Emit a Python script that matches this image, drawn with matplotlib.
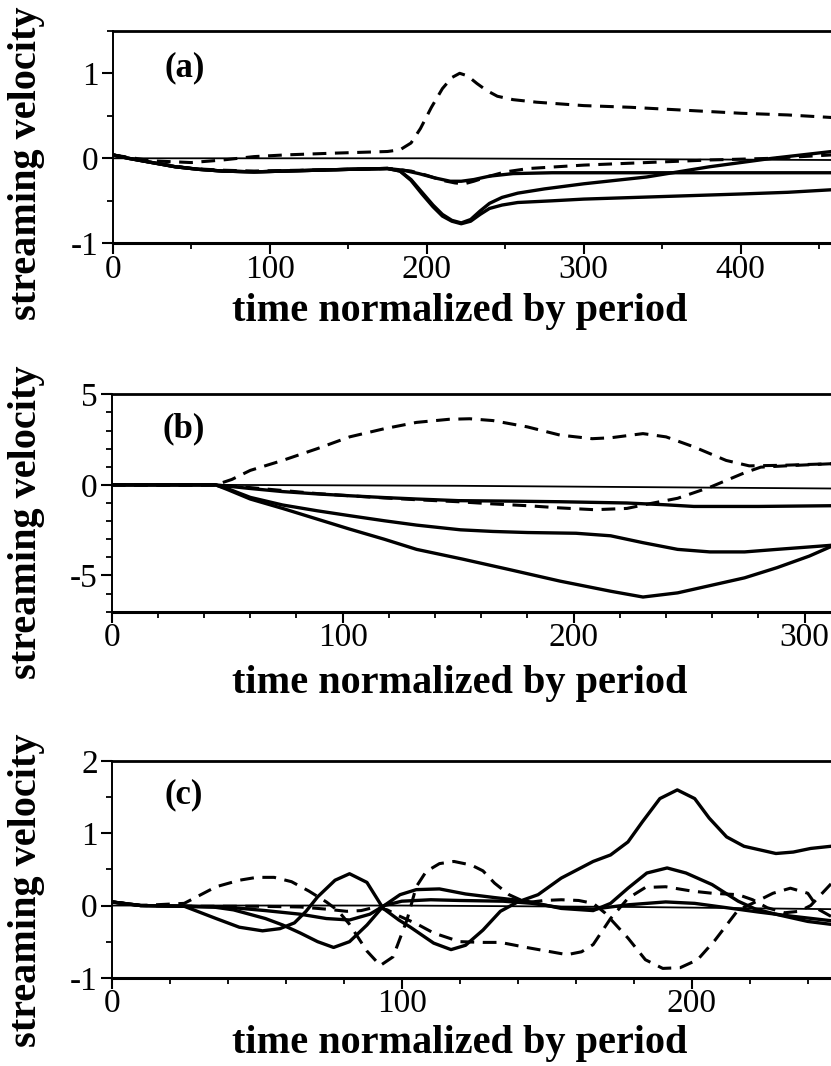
import matplotlib
matplotlib.use("Agg")
import matplotlib.pyplot as plt
from matplotlib.ticker import MultipleLocator

plt.rcParams['font.family'] = ['Liberation Serif', 'DejaVu Serif']
plt.rcParams['axes.unicode_minus'] = False

W, H = 831, 1066

# -------------------------
# Panel (a) data
# -------------------------
a_zero_t = [0, 200, 458]
a_zero_v = [0.0, 0.0, -0.02]

a_dash_up_t = [0, 25, 50, 70, 90, 110, 140, 175, 183, 190, 196, 203, 210, 216, 221, 226, 232,
               238, 245, 255, 270, 300, 330, 360, 400, 430, 458]
a_dash_up_v = [0.04, -0.03, -0.05, -0.02, 0.02, 0.04, 0.06, 0.08, 0.1, 0.18, 0.35, 0.6, 0.82, 0.95,
               1.0, 0.97, 0.88, 0.8, 0.73, 0.69, 0.66, 0.62, 0.6, 0.57, 0.53, 0.51, 0.48]

a_dash_lo_t = [0, 25, 50, 70, 90, 120, 150, 175, 190, 200, 210, 218, 224, 230, 240, 250, 265,
               300, 340, 380, 420, 458]
a_dash_lo_v = [0.04, -0.05, -0.12, -0.14, -0.15, -0.14, -0.13, -0.12, -0.15, -0.2, -0.26, -0.29,
               -0.3, -0.27, -0.21, -0.16, -0.12, -0.08, -0.05, -0.02, 0.0, 0.04]

a_start_t = [0, 10, 25, 40, 55, 70, 90, 110, 130, 150, 175]
a_start_v = [0.04, 0.0, -0.05, -0.1, -0.13, -0.15, -0.16, -0.15, -0.14, -0.13, -0.12]

a_sol1_t = a_start_t + [185, 195, 205, 215, 222, 230, 240, 255, 280, 320, 400, 458]
a_sol1_v = a_start_v + [-0.14, -0.18, -0.23, -0.27, -0.27, -0.25, -0.21, -0.18, -0.17, -0.17,
                        -0.17, -0.17]

a_sol2_t = a_start_t + [183, 190, 197, 204, 210, 216, 222, 228, 234, 240, 248, 258, 275, 300,
                        340, 380, 420, 458]
a_sol2_v = a_start_v + [-0.15, -0.25, -0.4, -0.55, -0.66, -0.73, -0.76, -0.72, -0.62, -0.53,
                        -0.46, -0.41, -0.36, -0.3, -0.22, -0.1, 0.0, 0.08]

a_sol3_t = a_start_t + [183, 190, 197, 204, 210, 216, 222, 228, 234, 240, 248, 258, 280, 300,
                        350, 400, 430, 458]
a_sol3_v = a_start_v + [-0.15, -0.26, -0.42, -0.57, -0.68, -0.74, -0.77, -0.74, -0.66, -0.59,
                        -0.55, -0.52, -0.5, -0.48, -0.45, -0.42, -0.4, -0.37]

# -------------------------
# Panel (b) data
# -------------------------
b_zero_t = [0, 45, 150, 312]
b_zero_v = [0.0, 0.0, -0.05, -0.2]

b_dash_up_t = [0, 20, 45, 52, 60, 74, 89, 103, 118, 132, 146, 155, 165, 180, 194, 208, 216,
               230, 240, 252, 266, 276, 290, 312]
b_dash_up_v = [0.0, -0.02, 0.0, 0.3, 0.8, 1.35, 2.0, 2.65, 3.1, 3.45, 3.62, 3.65, 3.55, 3.2,
               2.75, 2.55, 2.6, 2.83, 2.65, 2.1, 1.35, 1.05, 1.08, 1.17]

b_dash_lo_t = [0, 45, 60, 74, 89, 103, 118, 132, 150, 165, 180, 194, 209, 223, 232, 245, 259,
               274, 281, 295, 312]
b_dash_lo_v = [0.0, 0.0, -0.15, -0.31, -0.48, -0.6, -0.72, -0.82, -0.93, -1.05, -1.15, -1.27,
               -1.37, -1.3, -1.06, -0.74, -0.13, 0.67, 0.98, 1.07, 1.17]

b_sol1_t = [0, 45, 60, 74, 89, 103, 118, 132, 150, 175, 194, 223, 240, 252, 280, 312]
b_sol1_v = [0.0, 0.0, -0.2, -0.37, -0.5, -0.6, -0.7, -0.78, -0.87, -0.9, -0.93, -1.0, -1.1,
            -1.19, -1.19, -1.15]

b_sol2_t = [0, 45, 50, 60, 74, 89, 103, 118, 132, 151, 165, 180, 201, 216, 230, 245, 259, 274,
            288, 312]
b_sol2_v = [0.0, 0.0, -0.2, -0.69, -1.11, -1.43, -1.7, -1.98, -2.22, -2.48, -2.57, -2.63, -2.67,
            -2.81, -3.19, -3.56, -3.7, -3.7, -3.56, -3.33]

b_sol3_t = [0, 45, 50, 60, 74, 89, 103, 118, 132, 152, 172, 194, 216, 230, 245, 259, 274, 288,
            302, 312]
b_sol3_v = [0.0, 0.0, -0.25, -0.78, -1.3, -1.89, -2.44, -3.0, -3.56, -4.1, -4.67, -5.31, -5.87,
            -6.19, -5.96, -5.56, -5.13, -4.57, -3.93, -3.37]

# -------------------------
# Panel (c) data
# -------------------------
c_zero_t = [0, 100, 180, 248]
c_zero_v = [0.0, 0.0, -0.02, -0.05]

c_sol1_t = [0, 10, 25, 36, 44, 52, 58, 63, 67, 71, 77, 82, 88, 93.6, 99, 103, 111, 117, 122,
            128, 134, 140, 147, 155, 166, 172, 178, 183, 189, 195, 201, 206, 212, 218, 229,
            235, 241, 248]
c_sol1_v = [0.05, 0.0, -0.01, -0.18, -0.3, -0.35, -0.32, -0.24, -0.08, 0.12, 0.35, 0.44, 0.32,
            -0.04, -0.2, -0.3, -0.52, -0.61, -0.55, -0.34, -0.08, 0.05, 0.15, 0.38, 0.61, 0.7,
            0.88, 1.16, 1.48, 1.6, 1.48, 1.21, 0.95, 0.82, 0.72, 0.74, 0.79, 0.82]

c_sol2_t = [0, 10, 25, 35, 42, 53, 59, 65, 71, 76.5, 82, 88, 93.6, 99.4, 105, 113, 122, 132,
            143, 155, 166, 172, 178, 184.5, 191.5, 198, 207, 216, 222, 230, 240, 248]
c_sol2_v = [0.05, 0.0, -0.01, -0.02, -0.06, -0.18, -0.27, -0.38, -0.5, -0.58, -0.5, -0.27,
            -0.01, 0.15, 0.22, 0.23, 0.16, 0.11, 0.06, -0.04, -0.07, 0.03, 0.24, 0.45, 0.52,
            0.45, 0.29, 0.06, -0.05, -0.13, -0.22, -0.26]

c_sol3_t = [0, 10, 25, 42, 53, 65, 74, 82, 89, 94, 100, 110, 120, 135, 145, 155, 166, 178,
            191, 201, 212, 223, 235, 248]
c_sol3_v = [0.05, 0.0, -0.01, -0.03, -0.07, -0.12, -0.18, -0.2, -0.12, 0.0, 0.06, 0.08, 0.07,
            0.06, 0.03, -0.03, -0.05, 0.01, 0.05, 0.03, -0.03, -0.09, -0.15, -0.21]

c_dash1_t = [0, 10, 25, 36, 44, 50, 56, 62, 68, 74, 78, 82, 88, 92.6, 97, 101.8, 105, 108.4,
             113, 118, 124, 128, 132, 137, 143, 149, 155, 161, 166, 170, 178, 184, 190, 196,
             202, 208, 216, 222, 228, 234, 240, 244, 248]
c_dash1_v = [0.05, 0.0, 0.03, 0.26, 0.35, 0.39, 0.39, 0.33, 0.2, 0.05, -0.07, -0.26, -0.63,
             -0.83, -0.71, -0.2, 0.26, 0.47, 0.58, 0.61, 0.56, 0.48, 0.31, 0.15, 0.04, 0.07,
             0.08, 0.07, 0.03, -0.1, -0.45, -0.75, -0.87, -0.86, -0.75, -0.48, -0.06, 0.05,
             0.17, 0.24, 0.17, -0.06, -0.15]

c_dash2_t = [0, 10, 25, 50, 65, 74, 81, 86, 91, 95, 99.4, 105, 111, 120, 128, 134, 143, 150,
             157, 162, 166, 172, 178, 184, 191, 200, 207, 216, 221, 226, 232, 237, 241, 248]
c_dash2_v = [0.05, 0.0, -0.01, -0.01, -0.02, -0.05, -0.08, -0.07, -0.02, -0.06, -0.15, -0.25,
             -0.38, -0.5, -0.51, -0.51, -0.58, -0.63, -0.68, -0.64, -0.54, -0.18, 0.1, 0.25,
             0.26, 0.2, 0.17, 0.15, 0.08, -0.03, -0.1, -0.08, 0.0, 0.3]

# -------------------------
# Figure
# -------------------------
fig = plt.figure(figsize=(W / 100, H / 100), dpi=100)

TICK_FS = 24
LABEL_FS = 29


def make_axes(left, top, bottom, xmax, ylim, xmaj, xmin, ymaj, ymin):
    ax = fig.add_axes([left / W, 1 - bottom / H, 1 - left / W, (bottom - top) / H])
    ax.set_xlim(0, xmax)
    ax.set_ylim(*ylim)
    ax.xaxis.set_major_locator(MultipleLocator(xmaj))
    ax.xaxis.set_minor_locator(MultipleLocator(xmin))
    ax.yaxis.set_major_locator(MultipleLocator(ymaj))
    ax.yaxis.set_minor_locator(MultipleLocator(ymin))
    ax.spines['right'].set_visible(False)
    ax.spines['left'].set_linewidth(1.4)
    ax.spines['top'].set_linewidth(2.0)
    ax.spines['bottom'].set_linewidth(2.2)
    ax.tick_params(which='major', direction='out', length=8, width=1.5,
                   labelsize=TICK_FS, pad=2)
    ax.tick_params(which='minor', direction='out', length=4, width=1.3)
    ax.tick_params(axis='x', which='major', pad=0)
    return ax


def draw(ax, zero, solids, dashes):
    ax.plot(zero[0], zero[1], color='black', lw=1.3)
    for t, v in solids:
        ax.plot(t, v, color='black', lw=2.4, solid_joinstyle='round')
    for t, v in dashes:
        ax.plot(t, v, color='black', lw=2.2, dashes=(4.5, 2.8))


ax_a = make_axes(112.7, 30.8, 243.3, 457.5, (-1, 1.5), 100, 50, 1, 0.5)
draw(ax_a, (a_zero_t, a_zero_v),
     [(a_sol1_t, a_sol1_v), (a_sol2_t, a_sol2_v), (a_sol3_t, a_sol3_v)],
     [(a_dash_up_t, a_dash_up_v), (a_dash_lo_t, a_dash_lo_v)])

ax_b = make_axes(111.7, 394.3, 611.7, 311.4, (-7, 5), 100, 20, 5, 1)
draw(ax_b, (b_zero_t, b_zero_v),
     [(b_sol1_t, b_sol1_v), (b_sol2_t, b_sol2_v), (b_sol3_t, b_sol3_v)],
     [(b_dash_up_t, b_dash_up_v), (b_dash_lo_t, b_dash_lo_v)])

ax_c = make_axes(111.7, 761.0, 977.8, 248.0, (-1, 2), 100, 20, 1, 0.5)
draw(ax_c, (c_zero_t, c_zero_v),
     [(c_sol1_t, c_sol1_v), (c_sol2_t, c_sol2_v), (c_sol3_t, c_sol3_v)],
     [(c_dash1_t, c_dash1_v), (c_dash2_t, c_dash2_v)])

# etiquetas de panel
for ax, lab, yf in [(ax_a, '(a)', 0.825), (ax_b, '(b)', 0.84), (ax_c, '(c)', 0.843)]:
    ax.text(0.1, yf, lab, transform=ax.transAxes, fontsize=25, fontweight='bold',
            ha='center', va='center')

# textos de ejes (en pixeles de la figura)
for ycen in [163, 522, 890]:
    fig.text(27 / W, 1 - ycen / H, 'streaming velocity', rotation=90, fontsize=LABEL_FS,
             fontweight='bold', ha='center', va='center')
for ycen in [312, 683, 1044]:
    fig.text(460 / W, 1 - ycen / H, 'time normalized by period', fontsize=LABEL_FS,
             fontweight='bold', ha='center', va='center')

fig.savefig('out.png', dpi=100)
